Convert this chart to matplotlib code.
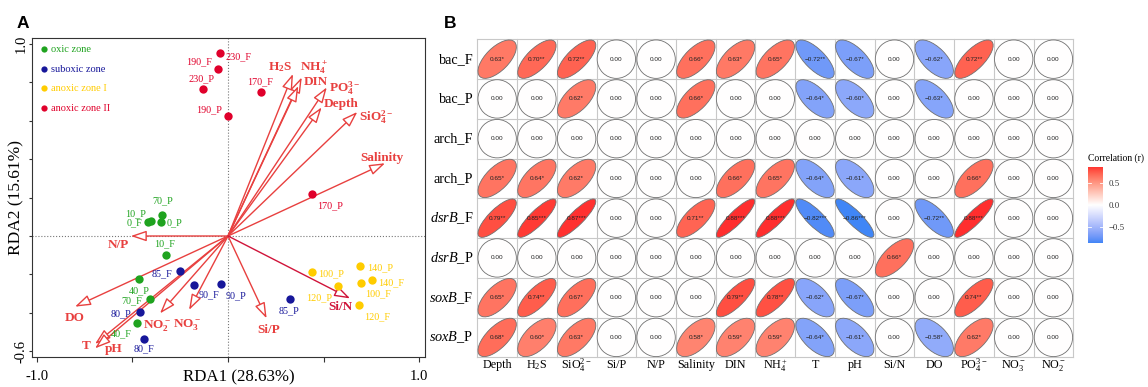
import numpy as np
import matplotlib
matplotlib.use('Agg')
import matplotlib.pyplot as plt
from matplotlib.patches import Ellipse
from matplotlib.colors import ListedColormap, Normalize, to_rgb

plt.rcParams['font.family'] = 'Liberation Serif'
plt.rcParams['mathtext.fontset'] = 'custom'
plt.rcParams['mathtext.rm'] = 'Liberation Serif'
plt.rcParams['mathtext.it'] = 'Liberation Serif:italic'
plt.rcParams['mathtext.bf'] = 'Liberation Serif:bold'

# ---------------- panel A : RDA ----------------
samples = ['0_F', '0_P', '10_F', '10_P', '40_F', '40_P', '70_F', '70_P',
           '80_F', '80_P', '85_F', '85_P', '90_F', '90_P',
           '100_F', '100_P', '120_F', '120_P', '140_F', '140_P',
           '170_F', '170_P', '190_F', '190_P', '230_F', '230_P']
zones = ['oxic zone'] * 8 + ['suboxic zone'] * 6 + ['anoxic zone I'] * 6 + ['anoxic zone II'] * 6
rda1 = [-0.419, -0.351, -0.325, -0.405, -0.478, -0.466, -0.408, -0.347,
        -0.440, -0.461, -0.251, 0.325, -0.178, -0.037,
        0.696, 0.441, 0.686, 0.574, 0.756, 0.691,
        0.171, 0.441, -0.051, -0.002, -0.042, -0.129]
rda2 = [0.073, 0.075, -0.099, 0.078, -0.453, -0.226, -0.330, 0.111,
        -0.536, -0.396, -0.184, -0.330, -0.254, -0.252,
        -0.243, -0.188, -0.361, -0.262, -0.231, -0.156,
        0.750, 0.217, 0.870, 0.623, 0.951, 0.766]

env_vars = ['H2S', 'NH4', 'DIN', 'PO4', 'Depth', 'SiO4', 'Salinity',
            'N/P', 'DO', 'T', 'pH', 'NO2', 'NO3', 'Si/P', 'Si/N']
env_rda1 = [0.340, 0.386, 0.368, 0.517, 0.490, 0.677, 0.822,
            -0.509, -0.801, -0.696, -0.696, -0.356, -0.204, 0.202, 0.639]
env_rda2 = [0.844, 0.826, 0.781, 0.774, 0.670, 0.646, 0.379,
            0.000, -0.368, -0.562, -0.585, -0.403, -0.385, -0.429, -0.325]

zone_names = ['oxic zone', 'suboxic zone', 'anoxic zone I', 'anoxic zone II']
zone_colors = {'oxic zone': '#1fa31f', 'suboxic zone': '#17179a',
               'anoxic zone I': '#ffcc00', 'anoxic zone II': '#e0002b'}

env_text = {'H2S': r'$\mathbf{H_2S}$', 'NH4': r'$\mathbf{NH_4^+}$', 'PO4': r'$\mathbf{PO_4^{3-}}$',
            'SiO4': r'$\mathbf{SiO_4^{2-}}$', 'NO2': r'$\mathbf{NO_2^-}$', 'NO3': r'$\mathbf{NO_3^-}$'}
# label offsets in pixels from arrow tip / point
env_off = {'H2S': (-13, 7), 'NH4': (12, 9), 'DIN': (17, 4), 'PO4': (18, -1), 'Depth': (19, 3),
           'SiO4': (19, -5), 'Salinity': (-3, 5), 'N/P': (-12, -9), 'DO': (0, -11), 'T': (-9, -2),
           'pH': (19, -1), 'NO2': (-3, -12), 'NO3': (-2, -15), 'Si/P': (2, -12), 'Si/N': (-10, -9)}
pt_off = {'230_F': (19, -3), '190_F': (-19, 7), '230_P': (-2, 10), '170_F': (-1, 10), '190_P': (-19, 7),
          '170_P': (18, -11), '70_P': (1, 14), '10_P': (-15, 7), '0_F': (-13, -1), '0_P': (14, -1),
          '10_F': (-1, 11), '85_F': (-18, -2), '40_P': (0, -11), '90_F': (15, -10), '90_P': (15, -11),
          '70_F': (-18, -1), '80_P': (-19, -2), '40_F': (-15, -11), '80_F': (0, -10), '85_P': (-1, -11),
          '100_P': (19, -2), '140_P': (20, -2), '140_F': (19, -2), '100_F': (17, -11), '120_P': (-19, -11),
          '120_F': (18, -11)}

arrow_col = '#e8403f'

fig = plt.figure(figsize=(11.48, 3.87), dpi=100)
ax = fig.add_axes([32 / 1148, 30 / 387, 393 / 1148, 319 / 387])
ax.set_xlim(-1.026, 1.031)
ax.set_ylim(-0.630, 1.031)
ax.axhline(0, color='#777777', ls=':', lw=0.8, zorder=0)
ax.axvline(0, color='#777777', ls=':', lw=0.8, zorder=0)

for v, x, y in zip(env_vars, env_rda1, env_rda2):
    c = '#d0143a' if v == 'Si/N' else arrow_col
    ax.annotate('', xy=(x, y), xytext=(0, 0),
                arrowprops=dict(arrowstyle='-|>,head_length=0.95,head_width=0.32', fc='white', ec=c,
                                lw=1.0, mutation_scale=10, shrinkA=0, shrinkB=0), zorder=2)
    ax.annotate(env_text.get(v, v), xy=(x, y), xytext=env_off[v], textcoords='offset pixels',
                ha='center', va='center', fontsize=9.5, fontweight='bold', color=c, zorder=4)

for z in zone_names:
    xs = [x for x, zz in zip(rda1, zones) if zz == z]
    ys = [y for y, zz in zip(rda2, zones) if zz == z]
    ax.scatter(xs, ys, s=36, color=zone_colors[z], label=z, zorder=3, linewidths=0)

for s, x, y, z in zip(samples, rda1, rda2, zones):
    ax.annotate(s, xy=(x, y), xytext=pt_off[s], textcoords='offset pixels',
                ha='center', va='center', fontsize=7.3, color=zone_colors[z], zorder=4)

ax.legend(loc='upper left', bbox_to_anchor=(0.0, 1.0), frameon=False, fontsize=7.5,
          handletextpad=0.1, labelspacing=0.98, borderaxespad=0.25, markerscale=0.75,
          handlelength=1.1, labelcolor=[zone_colors[z] for z in zone_names])

ax.set_xticks([-1.0, -0.5, 0.0, 0.5, 1.0])
ax.set_xticklabels(['-1.0', '', '', '', '1.0'])
ax.set_yticks([-0.6, -0.4, -0.2, 0.0, 0.2, 0.4, 0.6, 0.8, 1.0])
ax.set_yticklabels(['-0.6', '', '', '', '', '', '', '', '1.0'], rotation=90, va='center')
ax.tick_params(axis='x', length=3.5, pad=6, labelsize=10.5, color='#333333')
ax.tick_params(axis='y', length=2.5, pad=0.5, labelsize=10.5, color='#333333')
for sp in ax.spines.values():
    sp.set_color('#333333')
ax.set_xlabel('RDA1 (28.63%)', fontsize=12.2)
ax.set_ylabel('RDA2 (15.61%)', fontsize=12.5)
ax.xaxis.set_label_coords(0.527, -0.038)
ax.yaxis.set_label_coords(-0.02, 0.5)

# ---------------- panel B : correlation ----------------
corr_rows = ['bac_F', 'bac_P', 'arch_F', 'arch_P', 'dsrB_F', 'dsrB_P', 'soxB_F', 'soxB_P']
corr_cols = ['Depth', 'H2S', 'SiO4', 'Si/P', 'N/P', 'Salinity', 'DIN', 'NH4',
             'T', 'pH', 'Si/N', 'DO', 'PO4', 'NO3', 'NO2']
corr = [
    [0.63, 0.70, 0.72, 0, 0, 0.66, 0.63, 0.65, -0.72, -0.67, 0, -0.62, 0.72, 0, 0],
    [0, 0, 0.62, 0, 0, 0.66, 0, 0, -0.64, -0.60, 0, -0.63, 0, 0, 0],
    [0, 0, 0, 0, 0, 0, 0, 0, 0, 0, 0, 0, 0, 0, 0],
    [0.65, 0.64, 0.62, 0, 0, 0, 0.66, 0.65, -0.64, -0.61, 0, 0, 0.66, 0, 0],
    [0.79, 0.85, 0.87, 0, 0, 0.71, 0.88, 0.88, -0.82, -0.86, 0, -0.72, 0.88, 0, 0],
    [0, 0, 0, 0, 0, 0, 0, 0, 0, 0, 0.66, 0, 0, 0, 0],
    [0.65, 0.74, 0.67, 0, 0, 0, 0.79, 0.78, -0.62, -0.67, 0, 0, 0.74, 0, 0],
    [0.68, 0.60, 0.63, 0, 0, 0.58, 0.59, 0.59, -0.64, -0.61, 0, -0.58, 0.62, 0, 0],
]
stars = [
    ['*', '**', '**', '', '', '*', '*', '*', '**', '*', '', '*', '**', '', ''],
    ['', '', '*', '', '', '*', '', '', '*', '*', '', '*', '', '', ''],
    ['', '', '', '', '', '', '', '', '', '', '', '', '', '', ''],
    ['*', '*', '*', '', '', '', '*', '*', '*', '*', '', '', '*', '', ''],
    ['**', '***', '***', '', '', '**', '***', '***', '***', '***', '', '**', '***', '', ''],
    ['', '', '', '', '', '', '', '', '', '', '*', '', '', '', ''],
    ['*', '**', '*', '', '', '', '**', '**', '*', '*', '', '', '**', '', ''],
    ['*', '*', '*', '', '', '*', '*', '*', '*', '*', '', '*', '*', '', ''],
]
row_text = {'dsrB_F': r'$\mathit{dsrB}$_F', 'dsrB_P': r'$\mathit{dsrB}$_P',
            'soxB_F': r'$\mathit{soxB}$_F', 'soxB_P': r'$\mathit{soxB}$_P'}
col_text = {'H2S': r'H$_2$S', 'SiO4': r'SiO$_4^{2-}$', 'NH4': r'NH$_4^+$',
            'PO4': r'PO$_4^{3-}$', 'NO3': r'NO$_3^-$', 'NO2': r'NO$_2^-$'}


# blue - white - red gradient interpolated in Lab space
def to_lab(c):
    c = np.array(to_rgb(c))
    lin = np.where(c <= 0.04045, c / 12.92, ((c + 0.055) / 1.055) ** 2.4)
    M = np.array([[0.4124, 0.3576, 0.1805], [0.2126, 0.7152, 0.0722], [0.0193, 0.1192, 0.9505]])
    xyz = M @ lin / np.array([0.95047, 1.0, 1.08883])
    f = np.where(xyz > 0.008856, np.cbrt(xyz), 7.787 * xyz + 16 / 116)
    return np.array([116 * f[1] - 16, 500 * (f[0] - f[1]), 200 * (f[1] - f[2])])


def from_lab(lab):
    fy = (lab[0] + 16) / 116
    f = np.array([fy + lab[1] / 500, fy, fy - lab[2] / 200])
    xyz = np.where(f ** 3 > 0.008856, f ** 3, (f - 16 / 116) / 7.787) * np.array([0.95047, 1.0, 1.08883])
    Mi = np.array([[3.2406, -1.5372, -0.4986], [-0.9689, 1.8758, 0.0415], [0.0557, -0.2040, 1.0570]])
    lin = Mi @ xyz
    c = np.where(lin <= 0.0031308, 12.92 * lin, 1.055 * np.clip(lin, 0, None) ** (1 / 2.4) - 0.055)
    return np.clip(c, 0, 1)


low, mid, high = to_lab('#3a84f6'), to_lab('#ffffff'), to_lab('#ff2e2e')
ramp = []
for t in np.linspace(-1, 1, 256):
    end = high if t > 0 else low
    ramp.append(from_lab(mid + abs(t) * (end - mid)))
cmap = ListedColormap(ramp)

cm = np.array(corr)
nr, nc = cm.shape
m = np.abs(cm).max()
norm = Normalize(-m, m)

bx = fig.add_axes([477.3 / 1148, 29.7 / 387, 596 / 1148, 318 / 387])
bx.set_xlim(0, nc)
bx.set_ylim(nr, 0)
bx.axis('off')
for i in range(nc + 1):
    bx.plot([i, i], [0, nr], color='#c8c8c8', lw=0.8, zorder=0, clip_on=False)
for j in range(nr + 1):
    bx.plot([0, nc], [j, j], color='#c8c8c8', lw=0.8, zorder=0, clip_on=False)

sc = 0.483
for j in range(nr):
    for i in range(nc):
        r = cm[j, i]
        e = Ellipse((i + 0.5, j + 0.5), width=2 * sc * np.sqrt(1 + abs(r)),
                    height=2 * sc * np.sqrt(1 - abs(r)), angle=-45 if r > 0 else 45,
                    fc=cmap(norm(r)), ec='#707070', lw=0.6, zorder=2)
        bx.add_patch(e)
        lab = f'{r:.2f}'.replace('-', '\u2212') + stars[j][i]
        bx.text(i + 0.5, j + 0.5, lab, ha='center', va='center', fontsize=4.6,
                family='Liberation Sans', color='#222222', zorder=3)

for j, name in enumerate(corr_rows):
    bx.text(-0.1, j + 0.5, row_text.get(name, name), ha='right', va='center', fontsize=10.3)
for i, name in enumerate(corr_cols):
    bx.text(i + 0.5, nr + 0.2, col_text.get(name, name), ha='center', va='center', fontsize=8.7)

cax = fig.add_axes([1088.3 / 1148, 143.7 / 387, 15 / 1148, 76.6 / 387])
lo, hi = cm.min(), cm.max()
cax.imshow(np.linspace(hi, lo, 256)[:, None], aspect='auto', cmap=cmap, norm=norm,
           extent=[0, 1, lo, hi])
cax.set_xlim(0, 1)
cax.set_ylim(lo, hi)
for t in [-0.5, 0.0, 0.5]:
    cax.plot([0, 0.2], [t, t], color='white', lw=0.6)
    cax.plot([0.8, 1], [t, t], color='white', lw=0.6)
cax.set_xticks([])
cax.set_yticks([-0.5, 0.0, 0.5])
cax.set_yticklabels(['\u22120.5', '0.0', '0.5'])
cax.yaxis.tick_right()
cax.tick_params(length=0, labelsize=6.3, pad=4, labelcolor='#333333')
for sp in cax.spines.values():
    sp.set_visible(False)
fig.text(1088 / 1148, 1 - 157.7 / 387, 'Correlation (r)', fontsize=6.9, ha='left', va='center')

fig.text(23 / 1148, 1 - 24 / 387, 'A', fontsize=12.5, fontweight='bold', family='Liberation Sans',
         ha='center', va='center')
fig.text(450 / 1148, 1 - 24 / 387, 'B', fontsize=12.5, fontweight='bold', family='Liberation Sans',
         ha='center', va='center')

fig.savefig('out.png', dpi=100)
